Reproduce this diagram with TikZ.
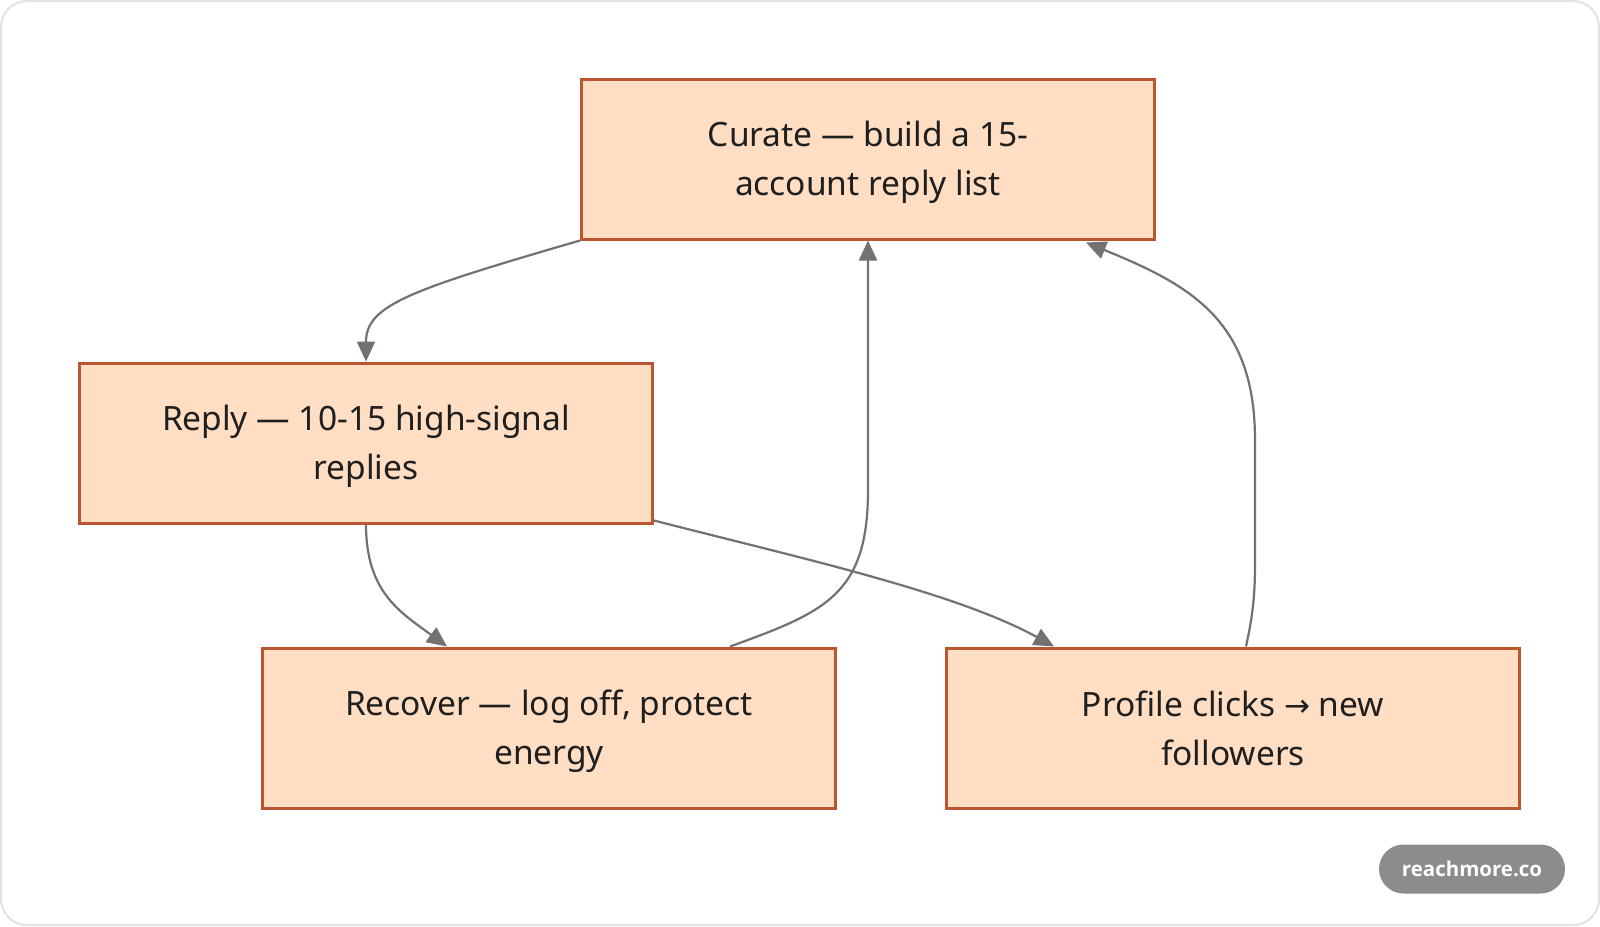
\documentclass[tikz,border=0pt]{standalone}
\usepackage{fontspec}
\setmainfont{Noto Sans}
\newfontfamily\symfont{DejaVu Sans}
\newfontfamily\badgefont{Open Sans}
\usetikzlibrary{arrows.meta}
\definecolor{boxfill}{HTML}{FFDEC4}
\definecolor{boxline}{HTML}{BC5630}
\definecolor{edgecol}{HTML}{747170}
\definecolor{framecol}{HTML}{E2E2E2}
\definecolor{badgecol}{HTML}{8C8C8C}
\begin{document}
\begin{tikzpicture}[x=1pt,y=-1pt,
  stepbox/.style={draw=boxline,fill=boxfill,line width=3pt,minimum width=573pt,minimum height=160pt,
    inner sep=0pt},
  steptext/.style={align=center,font=\fontsize{33.5}{49}\selectfont,text=black!88},
  arr/.style={draw=edgecol,line width=2.2pt,-{Triangle[length=20pt,width=18pt]}}]
\useasboundingbox (0,0) rectangle (1600,926);
\draw[framecol,line width=2pt,fill=white,rounded corners=26pt] (1,1) rectangle (1599,925);
\node[stepbox] (cur) at (868,159) {};
\node[stepbox] (rep) at (366,443) {};
\node[stepbox] (rec) at (549,728) {};
\node[stepbox] (prof) at (1233,728) {};
\node[steptext] (curt) at (868,162) {Curate — build a 15-\\account reply list};
\node[steptext] (rept) at (366,446) {Reply — 10-15 high-signal\\replies};
\node[steptext] (rect) at (549,731) {Recover — log off, protect\\energy};
\node[steptext] (proft) at (1233,728) {Profile clicks {\symfont\fontsize{31}{49}\selectfont →} new\\followers};
\node[fill=badgecol,rounded corners=24.5pt,minimum width=186pt,minimum height=49pt,inner sep=0pt,
  text=white,font=\badgefont\fontsize{20.5}{24}\selectfont\bfseries] (badge) at (1472,869) {reachmore.co};
\draw[arr] (cur.south west) .. controls (410,290) and (366,305) .. (rep.north);
\draw[arr] (rep.south) .. controls (366,592) and (400,612) .. ([xshift=-102pt]rec.north);
\draw[arr] ([yshift=4pt]rep.south east) .. controls (800,558) and (955,592) .. ([xshift=-179pt]prof.north);
\draw[arr] ([xshift=181pt]rec.north) .. controls (825,612) and (868,595) .. (868,490) -- (cur.south);
\draw[arr] ([xshift=13pt]prof.north) .. controls (1254,610) and (1255,590) .. (1255,560) -- (1255,440)
  .. controls (1255,320) and (1190,285) .. ([xshift=218pt,yshift=-2pt]cur.south);
\end{tikzpicture}
\end{document}
